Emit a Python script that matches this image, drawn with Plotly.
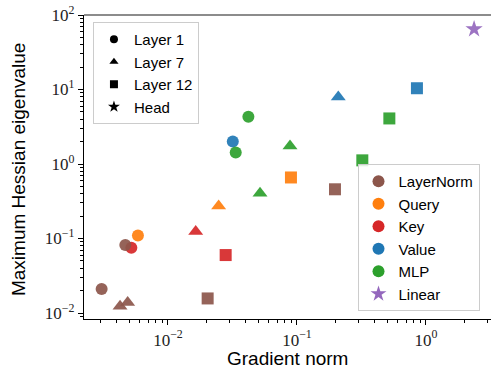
import plotly.graph_objects as go

# ---- data ----
components = ["LayerNorm", "Query", "Key", "Value", "MLP", "Linear"]
colors = {"LayerNorm": "#8c564b", "Query": "#ff7f0e", "Key": "#d62728",
          "Value": "#1f77b4", "MLP": "#2ca02c", "Linear": "#9467bd"}
layers = ["Layer 1", "Layer 7", "Layer 12", "Head"]
symbols = {"Layer 1": "circle", "Layer 7": "triangle-up", "Layer 12": "square", "Head": "star"}

# points: (component, layer, gradient norm, max Hessian eigenvalue)
pt_component = ["Key", "Query", "Value", "LayerNorm", "LayerNorm", "MLP", "MLP",
                "Key", "Query", "Value", "LayerNorm", "LayerNorm", "MLP", "MLP",
                "Key", "Query", "Value", "LayerNorm", "LayerNorm", "MLP", "MLP",
                "Linear"]
pt_layer = ["Layer 1", "Layer 1", "Layer 1", "Layer 1", "Layer 1", "Layer 1", "Layer 1",
            "Layer 7", "Layer 7", "Layer 7", "Layer 7", "Layer 7", "Layer 7", "Layer 7",
            "Layer 12", "Layer 12", "Layer 12", "Layer 12", "Layer 12", "Layer 12", "Layer 12",
            "Head"]
grad_norm = [0.0052, 0.00585, 0.0318, 0.00306, 0.00467, 0.0335, 0.042,
             0.0164, 0.0247, 0.209, 0.00425, 0.00487, 0.0517, 0.0883,
             0.028, 0.0898, 0.851, 0.0203, 0.197, 0.321, 0.52,
             2.36]
max_eig = [0.075, 0.11, 2.01, 0.021, 0.0816, 1.43, 4.3,
           0.124, 0.274, 7.96, 0.0123, 0.0139, 0.405, 1.74,
           0.06, 0.66, 10.4, 0.0157, 0.458, 1.12, 4.09,
           64.7]

x_major = [0.01, 0.1, 1]
x_major_text = ["10<sup>−2</sup>", "10<sup>−1</sup>", "10<sup>0</sup>"]
y_major = [0.01, 0.1, 1, 10, 100]
y_major_text = ["10<sup>−2</sup>", "10<sup>−1</sup>", "10<sup>0</sup>", "10<sup>1</sup>", "10<sup>2</sup>"]
x_title = "Gradient norm"
y_title = "Maximum Hessian eigenvalue"

sizes = {"circle": 12, "triangle-up": 13, "square": 12, "star": 13}

fig = go.Figure()
for comp in ["Query", "Value", "Key", "LayerNorm", "MLP", "Linear"]:
    for lay in layers:
        xs = [g for c, l, g in zip(pt_component, pt_layer, grad_norm) if c == comp and l == lay]
        ys = [e for c, l, e in zip(pt_component, pt_layer, max_eig) if c == comp and l == lay]
        if not xs:
            continue
        sym = symbols[lay]
        fig.add_trace(go.Scatter(
            x=xs, y=ys, mode="markers", showlegend=False, cliponaxis=False,
            marker=dict(symbol=sym, size=sizes[sym], color=colors[comp],
                        opacity=0.92, line=dict(width=0)),
        ))

# legend 1: layers (black markers)
for lay in layers:
    fig.add_trace(go.Scatter(
        x=[None], y=[None], mode="markers", name=lay, legend="legend",
        marker=dict(symbol=symbols[lay], size=8 if lay != "Head" else 9, color="black"),
    ))
# legend 2: components (colored)
for comp in components:
    fig.add_trace(go.Scatter(
        x=[None], y=[None], mode="markers", name=comp, legend="legend2",
        marker=dict(symbol="star" if comp == "Linear" else "circle",
                    size=12, color=colors[comp]),
    ))

minor_x = [m * 10.0 ** e for e in range(-3, 1) for m in range(2, 10)]
minor_y = [m * 10.0 ** e for e in range(-3, 2) for m in range(2, 10)]

legend_style = dict(bgcolor="rgba(255,255,255,0.85)", bordercolor="#cccccc", borderwidth=1,
                    font=dict(family="Liberation Sans", size=15, color="black"),
                    itemsizing="trace", tracegroupgap=0)

fig.update_layout(
    width=491, height=372,
    margin=dict(l=84, r=0, t=15, b=53),
    paper_bgcolor="white", plot_bgcolor="white",
    xaxis=dict(type="log", range=[-2.651, 0.504], showgrid=False, zeroline=False,
               automargin=False,
               showline=True, linecolor="black", linewidth=1.2,
               tickmode="array", tickvals=x_major, ticktext=x_major_text,
               ticks="outside", ticklen=5, tickwidth=1, tickcolor="black",
               tickfont=dict(family="Liberation Serif", size=17, color="#222"),
               minor=dict(tickmode="array", tickvals=minor_x, ticks="outside",
                          ticklen=2.5, tickwidth=0.8, tickcolor="black", showgrid=False)),
    yaxis=dict(type="log", range=[-2.08, 2.0], showgrid=False, zeroline=False,
               automargin=False,
               showline=True, linecolor="black", linewidth=1.2,
               tickmode="array", tickvals=y_major, ticktext=y_major_text,
               ticks="outside", ticklen=5, tickwidth=1, tickcolor="black",
               tickfont=dict(family="Liberation Serif", size=17, color="#222"),
               minor=dict(tickmode="array", tickvals=minor_y, ticks="outside",
                          ticklen=2.5, tickwidth=0.8, tickcolor="black", showgrid=False)),
    legend=dict(x=0.022, y=0.977, xanchor="left", yanchor="top", **legend_style),
    legend2=dict(x=0.672, y=0.026, xanchor="left", yanchor="bottom", **legend_style),
    shapes=[dict(type="line", xref="paper", yref="paper", x0=0, x1=1, y0=1, y1=1,
                 line=dict(color="#666666", width=1.5))],
    annotations=[
        dict(text=x_title, xref="paper", yref="paper", x=0.5, y=-39 / 304,
             xanchor="center", yanchor="middle", showarrow=False,
             font=dict(family="Liberation Sans", size=19, color="black")),
        dict(text=y_title, xref="paper", yref="paper", x=-66 / 407, y=0.49,
             xanchor="center", yanchor="middle", showarrow=False, textangle=-90,
             font=dict(family="Liberation Sans", size=19, color="black")),
    ],
)

fig.write_html("out.html", config={"displayModeBar": False},
               post_script="document.body.style.margin='0';document.body.style.padding='0';")
